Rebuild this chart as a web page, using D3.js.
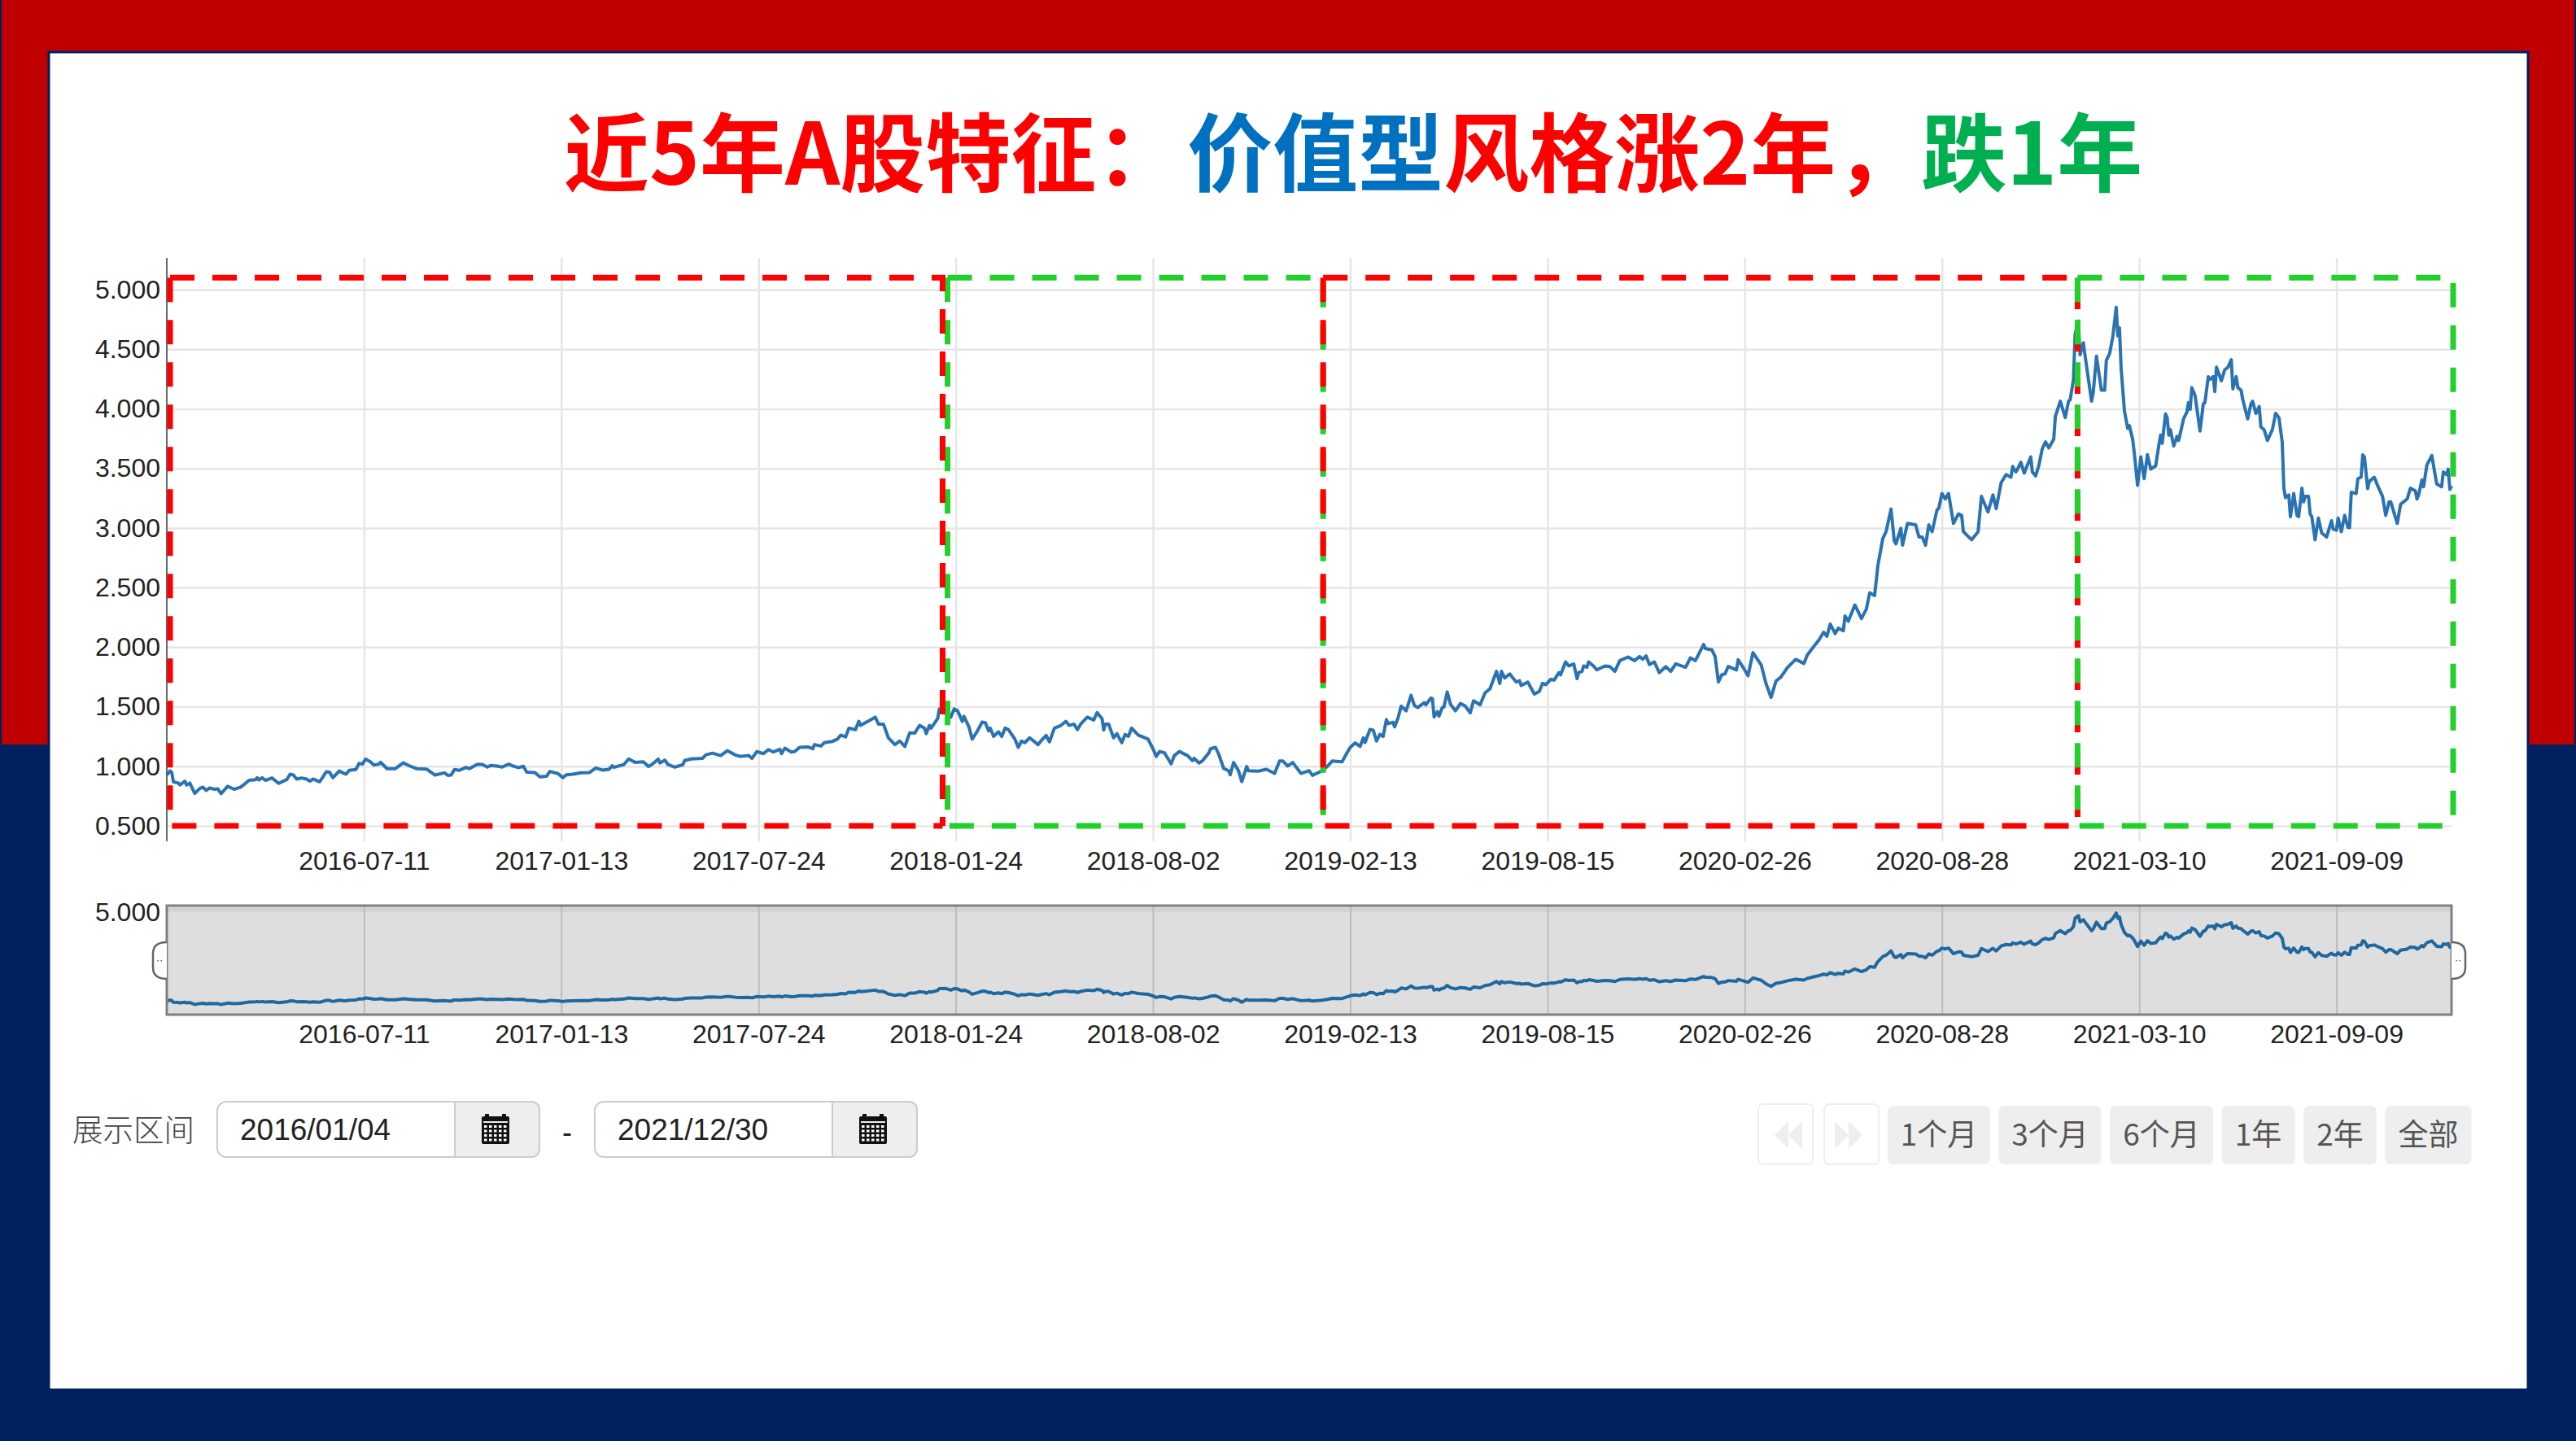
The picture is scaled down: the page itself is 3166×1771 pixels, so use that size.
<!DOCTYPE html>
<html>
<head>
<meta charset="utf-8">
<title>近5年A股特征</title>
<script src="https://cdn.jsdelivr.net/npm/d3@7/dist/d3.min.js"></script>
<style>
html, body { margin: 0; padding: 0; background: #fff; }
svg { display: block; }
text { font-family: "Liberation Sans", Arial, sans-serif; fill: #222; }
.tick text { font-size: 32px; }
.cjk { font-family: "Noto Sans CJK SC", sans-serif; }
.axis .domain { display: none; }
</style>
</head>
<body>
<svg id="chart" width="3166" height="1771"></svg>
<script>
const titleParts = [
    ["近5年A股特征：", "#ff0000"],
    ["价值型", "#0070c0"],
    ["风格涨2年，", "#ff0000"],
    ["跌1年", "#00b050"]
];

const yTicks = [0.5, 1, 1.5, 2, 2.5, 3, 3.5, 4, 4.5, 5];

// x axis counts trading days from 2016/01/04, one label every 120 days
const xTickDays = [120, 240, 360, 480, 600, 720, 840, 960, 1080, 1200, 1320];
const xTickLabels = ["2016-07-11", "2017-01-13", "2017-07-24", "2018-01-24", "2018-08-02", "2019-02-13",
    "2019-08-15", "2020-02-26", "2020-08-28", "2021-03-10", "2021-09-09"];

const startDate = "2016/01/04";
const endDate = "2021/12/30";
const rangeButtons = ["1个月", "3个月", "6个月", "1年", "2年", "全部"];

// up and down periods boxed on the chart: first day, last day, colour
const periods = [
    [475, 703.5, "#22d02b"],
    [2, 472, "#ff0000"],
    [703.5, 1162.5, "#ff0000"],
    [1162.5, 1391, "#22d02b"]
];

// [trading day, value]
const nav2016 = [
    [0,0.927],[2,0.961],[3,0.950],[4,0.870],[7,0.859],[8,0.843],[11,0.875],[12,0.843],[14,0.859],[17,0.772],
    [20,0.813],[22,0.825],[24,0.797],[26,0.818],[29,0.807],[31,0.811],[33,0.770],[37,0.832],[41,0.807],[45,0.825],
    [48,0.859],[50,0.882],[54,0.888],[55,0.904],[56,0.886],[58,0.904],[60,0.882],[64,0.902],[68,0.857],[73,0.888],
    [75,0.934],[77,0.927],[79,0.893],[82,0.902],[85,0.893],[87,0.875],[89,0.893],[93,0.870],[95,0.911],[97,0.954],
    [99,0.950],[101,0.904],[105,0.961],[107,0.945],[109,0.934],[111,0.966],[115,0.973],[117,1.025],[119,1.018],[121,1.061],
    [124,1.036],[126,1.011],[129,1.018],[130,1.034],[134,0.980],[139,0.980],[144,1.030],[147,1.007],[152,0.980],[158,0.977],
    [163,0.927],[169,0.945],[171,0.923],[173,0.927],[175,0.973],[178,0.966],[182,0.991],[184,0.980],[189,1.018],[192,1.016],
    [195,0.993],[197,1.007],[201,1.002],[204,0.993],[208,1.018],[211,1.000],[214,0.989],[217,1.000],[219,0.950],[224,0.948],
    [227,0.911],[231,0.916],[233,0.957],[238,0.939],[241,0.904]
];
const nav2017 = [
    [243,0.929],[247,0.933],[252,0.945],[257,0.947],[261,0.986],[265,0.968],[269,0.975],[271,1.005],[272,0.991],[278,1.014],
    [281,1.062],[285,1.032],[290,1.037],[293,0.998],[295,1.014],[299,1.060],[300,1.028],[303,1.051],[305,1.014],[309,0.993],
    [314,1.014],[315,1.048],[319,1.062],[326,1.067],[328,1.097],[332,1.110],[337,1.090],[341,1.131],[346,1.094],[349,1.083],
    [354,1.090],[356,1.067],[359,1.124],[363,1.106],[366,1.140],[369,1.120],[373,1.143],[374,1.106],[376,1.152],[380,1.120],
    [382,1.124],[385,1.159],[390,1.163],[393,1.147],[394,1.182],[398,1.170],[400,1.198],[405,1.209],[408,1.228],[410,1.262],
    [413,1.246],[415,1.320],[419,1.308],[421,1.377],[422,1.343],[425,1.366],[431,1.412],[433,1.354],[436,1.354],[439,1.239],
    [443,1.182],[446,1.212],[449,1.166],[452,1.281],[455,1.278],[458,1.343],[461,1.320],[462,1.274],[464,1.343],[465,1.320],
    [469,1.400],[470,1.481],[474,1.485]
];
const nav2018 = [
    [477,1.412],[479,1.481],[481,1.469],[484,1.377],[485,1.419],[488,1.331],[490,1.228],[493,1.292],[496,1.370],[498,1.366],
    [500,1.297],[501,1.320],[503,1.251],[506,1.290],[508,1.251],[510,1.320],[512,1.308],[516,1.228],[518,1.159],[520,1.212],
    [522,1.198],[525,1.239],[530,1.182],[532,1.216],[535,1.258],[537,1.205],[540,1.320],[544,1.343],[547,1.377],[549,1.343],
    [552,1.354],[554,1.308],[556,1.354],[560,1.412],[564,1.389],[566,1.451],[569,1.400],[570,1.304],[571,1.354],[573,1.354],
    [576,1.239],[578,1.274],[581,1.198],[583,1.267],[585,1.251],[587,1.320],[591,1.262],[597,1.228],[600,1.147],[602,1.083],
    [604,1.124],[607,1.113],[611,1.021],[613,1.090],[616,1.124],[621,1.090],[624,1.048],[625,1.067],[628,1.028],[630,1.044],
    [634,1.113],[635,1.147],[638,1.159],[640,1.101],[643,0.982],[646,0.963],[647,0.929],[649,1.032],[652,0.963],[654,0.871],
    [657,0.998],[658,0.963],[664,0.959],[669,0.975],[674,0.940],[677,1.044],[679,1.044],[682,1.002],[685,1.032],[690,0.940],
    [695,0.963],[697,0.924],[703,0.963],[706,0.998],[709,1.044],[715,1.037],[718,1.113],[720,1.159]
];
const nav2019 = [
    [723,1.196],[726,1.167],[728,1.239],[729,1.200],[732,1.309],[734,1.302],[736,1.212],[738,1.268],[740,1.250],[742,1.392],
    [743,1.358],[746,1.369],[747,1.331],[749,1.403],[751,1.505],[754,1.466],[757,1.595],[759,1.511],[761,1.493],[765,1.534],
    [766,1.516],[769,1.572],[770,1.568],[771,1.414],[773,1.459],[774,1.421],[776,1.493],[777,1.498],[779,1.624],[781,1.520],
    [784,1.466],[787,1.527],[790,1.505],[793,1.448],[795,1.550],[799,1.516],[802,1.617],[805,1.651],[809,1.797],[811,1.696],
    [812,1.797],[814,1.741],[817,1.775],[821,1.707],[823,1.718],[824,1.678],[828,1.707],[832,1.606],[835,1.628],[837,1.696],
    [839,1.685],[842,1.730],[844,1.723],[847,1.786],[848,1.768],[851,1.876],[853,1.842],[856,1.858],[858,1.736],[859,1.786],
    [861,1.797],[862,1.842],[864,1.831],[865,1.876],[868,1.842],[870,1.809],[875,1.842],[878,1.836],[881,1.797],[884,1.887],
    [889,1.917],[893,1.887],[896,1.921],[898,1.899],[900,1.926],[902,1.854],[905,1.876],[908,1.786],[912,1.836],[915,1.797],
    [918,1.860],[924,1.831],[927,1.910],[930,1.887],[935,2.022],[936,1.989],[940,1.977],[942,1.921],[944,1.707],[946,1.768],
    [948,1.775],[950,1.838],[955,1.809],[956,1.894],[959,1.831],[962,1.760]
];
const nav2020 = [
    [965,1.954],[970,1.852],[973,1.692],[976,1.578],[979,1.715],[982,1.749],[986,1.829],[991,1.897],[996,1.863],[998,1.932],
    [1002,2.005],[1005,2.057],[1008,2.125],[1010,2.091],[1012,2.194],[1015,2.114],[1017,2.160],[1020,2.137],[1021,2.262],[1023,2.217],
    [1027,2.354],[1031,2.240],[1034,2.319],[1036,2.456],[1039,2.433],[1041,2.684],[1044,2.912],[1046,2.969],[1049,3.159],[1051,2.890],
    [1052,2.867],[1055,2.997],[1056,2.855],[1059,3.038],[1064,3.026],[1066,2.924],[1068,2.924],[1070,2.855],[1072,3.026],[1074,2.969],
    [1077,3.152],[1078,3.163],[1080,3.289],[1082,3.243],[1084,3.289],[1087,3.038],[1090,3.118],[1092,3.106],[1093,2.969],[1098,2.901],
    [1102,2.969],[1104,3.266],[1108,3.134],[1111,3.277],[1113,3.163],[1116,3.380],[1119,3.448],[1122,3.426],[1123,3.517],[1125,3.471],
    [1126,3.494],[1128,3.551],[1130,3.460],[1134,3.597],[1135,3.471],[1137,3.437],[1139,3.528],[1141,3.665],[1143,3.722],[1145,3.672],
    [1148,3.745],[1149,3.939],[1152,4.064],[1155,3.927],[1157,4.064],[1158,4.076],[1160,4.247],[1161,4.623],[1163,4.737],[1164,4.452],
    [1166,4.555],[1167,4.452],[1171,4.064],[1172,4.133],[1174,4.441],[1177,4.156],[1179,4.156],[1180,4.406],[1182,4.463],[1184,4.612],
    [1186,4.851],[1187,4.612],[1188,4.680],[1189,4.338],[1191,3.984],[1193,3.836],[1194,3.859],[1196,3.745],[1197,3.631],[1199,3.357],
    [1201,3.597],[1203,3.414],[1205,3.615]
];
const nav2021 = [
    [1207,3.494],[1210,3.521],[1212,3.699],[1213,3.779],[1214,3.711],[1216,3.957],[1217,3.927],[1218,3.779],[1219,3.825],[1221,3.688],
    [1223,3.768],[1224,3.734],[1227,3.916],[1229,3.973],[1230,4.053],[1231,3.996],[1232,4.178],[1234,4.110],[1237,3.813],[1239,4.042],
    [1240,4.053],[1242,4.270],[1243,4.247],[1245,4.270],[1246,4.144],[1247,4.349],[1250,4.235],[1252,4.327],[1254,4.349],[1256,4.413],
    [1257,4.167],[1259,4.270],[1260,4.178],[1262,4.156],[1263,4.076],[1266,3.916],[1268,4.042],[1269,4.064],[1271,3.962],[1273,4.019],
    [1274,3.848],[1276,3.825],[1278,3.734],[1281,3.825],[1283,3.962],[1285,3.927],[1287,3.722],[1288,3.334],[1289,3.255],[1291,3.277],
    [1292,3.095],[1294,3.289],[1296,3.106],[1297,3.095],[1299,3.334],[1300,3.220],[1301,3.266],[1303,3.266],[1304,3.118],[1305,3.095],
    [1307,2.901],[1309,3.083],[1311,2.958],[1314,2.924],[1315,2.969],[1317,3.061],[1318,2.992],[1320,2.981],[1321,3.083],[1323,2.969],
    [1325,3.106],[1327,3.004],[1328,3.004],[1329,3.300],[1332,3.289],[1333,3.414],[1335,3.426],[1336,3.613],[1337,3.597],[1339,3.330],
    [1340,3.391],[1343,3.426],[1345,3.357],[1348,3.266],[1350,3.106],[1352,3.220],[1353,3.220],[1357,3.038],[1359,3.198],[1363,3.243],
    [1365,3.334],[1368,3.312],[1369,3.243],[1370,3.277],[1372,3.403],[1373,3.346],[1375,3.528],[1378,3.608],[1381,3.369],[1384,3.346],
    [1385,3.471],[1387,3.448],[1388,3.494],[1389,3.323],[1390,3.353]
];
const navPoints = [].concat(nav2016, nav2017, nav2018, nav2019, nav2020, nav2021);

const svg = d3.select("#chart");

// slide background
svg.append("rect").attr("width", 3166).attr("height", 1771).attr("fill", "#002060");
svg.append("rect").attr("x", 2).attr("width", 3162).attr("height", 915).attr("fill", "#c00000");
svg.append("rect").attr("x", 60).attr("y", 64).attr("width", 3047).attr("height", 1644)
    .attr("fill", "#fff").attr("stroke", "#002060").attr("stroke-width", 3);

// title, the blue part sits a bit further right than the font's full width colon leaves it
const title = svg.append("text").attr("class", "cjk")
    .attr("x", 693).attr("y", 227)
    .attr("font-size", 105).attr("font-weight", 700);
titleParts.forEach((p, i) => {
    title.append("tspan").attr("class", "cjk").attr("dx", i == 1 ? 7 : 0).style("fill", p[1]).text(p[0]);
});

const x = d3.scaleLinear().domain([0, 1390]).range([205, 3013]);
const y = d3.scaleLinear().domain([0.5, 5]).range([1015, 356]);
const navY = d3.scaleLinear().domain([0.5, 5]).range([1242, 1118]);

const mainTop = 317, mainBottom = 1034;
const navTop = 1113, navBottom = 1247;

// main chart grid
svg.append("g").attr("class", "axis")
    .attr("transform", `translate(0,${mainTop})`)
    .call(d3.axisBottom(x).tickValues(xTickDays).tickSize(mainBottom - mainTop).tickSizeOuter(0).tickFormat(""))
    .selectAll("line").attr("stroke", "#e6e6e6").attr("stroke-width", 2.5);

svg.append("g").attr("class", "axis")
    .attr("transform", `translate(${x.range()[0]},0)`)
    .call(d3.axisRight(y).tickValues(yTicks).tickSize(x.range()[1] - x.range()[0]).tickFormat(""))
    .selectAll("line").attr("stroke", "#e6e6e6").attr("stroke-width", 2.5);

// y labels
svg.append("g").attr("class", "axis")
    .attr("transform", "translate(205,0)")
    .call(d3.axisLeft(y).tickValues(yTicks).tickSize(0).tickPadding(8).tickFormat(d3.format(".3f")));

svg.append("line").attr("x1", 205).attr("x2", 205).attr("y1", mainTop).attr("y2", mainBottom)
    .attr("stroke", "#666").attr("stroke-width", 2);

// x labels
function dateAxis(scale, top) {
    svg.append("g").attr("class", "axis")
        .attr("transform", `translate(0,${top})`)
        .call(d3.axisBottom(scale).tickValues(xTickDays).tickSize(0).tickPadding(12)
            .tickFormat((d, i) => xTickLabels[i]));
}
dateAxis(x, mainBottom);

const line = d3.line().x(d => x(d[0])).y(d => y(d[1]));
svg.append("path").datum(navPoints)
    .attr("fill", "none").attr("stroke", "#2a73b2").attr("stroke-width", 4)
    .attr("stroke-linejoin", "round").attr("d", line);

// dashed period boxes, two open paths so both sides start dashing at the top left corner
const boxTop = y(5.1), boxBottom = y(0.5);
periods.forEach(p => {
    const x0 = x(p[0]), x1 = x(p[1]);
    const sides = d3.path();
    sides.moveTo(x0, boxTop);
    sides.lineTo(x1, boxTop);
    sides.lineTo(x1, boxBottom);
    sides.moveTo(x0, boxTop);
    sides.lineTo(x0, boxBottom);
    sides.lineTo(x1, boxBottom);
    svg.append("path").attr("d", sides.toString())
        .attr("fill", "none").attr("stroke", p[2]).attr("stroke-width", 7)
        .attr("stroke-dasharray", "30 22");
});

// range navigator
svg.append("rect").attr("x", 205).attr("y", navTop)
    .attr("width", x.range()[1] - 205).attr("height", navBottom - navTop)
    .attr("fill", "#dedede");
svg.append("line").attr("x1", 205).attr("x2", x.range()[1]).attr("y1", navY(5)).attr("y2", navY(5))
    .attr("stroke", "#d2d2d2").attr("stroke-width", 5);
svg.append("g").attr("class", "axis")
    .attr("transform", `translate(0,${navTop})`)
    .call(d3.axisBottom(x).tickValues(xTickDays).tickSize(navBottom - navTop).tickFormat(""))
    .selectAll("line").attr("stroke", "#bcbcbc").attr("stroke-width", 2);

const navLine = d3.line().x(d => x(d[0])).y(d => navY(d[1]));
svg.append("path").datum(navPoints)
    .attr("fill", "none").attr("stroke", "#1f689f").attr("stroke-width", 4)
    .attr("stroke-linejoin", "round").attr("d", navLine);

svg.append("rect").attr("x", 205).attr("y", navTop)
    .attr("width", x.range()[1] - 205).attr("height", navBottom - navTop)
    .attr("fill", "none").attr("stroke", "#808080").attr("stroke-width", 3);

svg.append("g").attr("class", "axis")
    .attr("transform", "translate(205,3)")
    .call(d3.axisLeft(navY).tickValues([5]).tickSize(0).tickPadding(8).tickFormat(d3.format(".3f")));
dateAxis(x, navBottom);

function navHandle(edge, dir) {
    const w = 17 * dir;
    const h = d3.path();
    h.moveTo(edge, 1158);
    h.quadraticCurveTo(edge + w, 1158, edge + w, 1172);
    h.lineTo(edge + w, 1189);
    h.quadraticCurveTo(edge + w, 1203, edge, 1203);
    svg.append("path").attr("d", h.toString())
        .attr("fill", "#fff").attr("stroke", "#666").attr("stroke-width", 2.5);
    [-2, 2].forEach(o => {
        svg.append("rect").attr("x", edge + w / 2 + o - 1).attr("y", 1180).attr("width", 1.5).attr("height", 1.5).attr("fill", "#666");
    });
}
navHandle(205, -1);
navHandle(x.range()[1], 1);

// date inputs
function calendarIcon(left) {
    const g = svg.append("g").attr("transform", `translate(${left},1369)`);
    g.append("rect").attr("y", 3).attr("width", 34).attr("height", 34).attr("rx", 2).attr("fill", "#111");
    [4, 25].forEach(o => {
        g.append("rect").attr("x", o).attr("width", 5).attr("height", 7).attr("fill", "#111");
    });
    g.append("rect").attr("x", 2).attr("y", 9).attr("width", 30).attr("height", 2).attr("fill", "#eee");
    d3.range(4).forEach(r => d3.range(5).forEach(c => {
        g.append("rect").attr("x", 3 + c * 6).attr("y", 14 + r * 5.5)
            .attr("width", 3.5).attr("height", 3).attr("fill", "#fff");
    }));
}

function dateInput(left, value) {
    const width = 396, divider = 292;
    svg.append("rect").attr("x", left).attr("y", 1354).attr("width", width).attr("height", 68).attr("rx", 11)
        .attr("fill", "#fff").attr("stroke", "#ccc").attr("stroke-width", 2);
    const add = d3.path();
    add.moveTo(left + divider, 1354);
    add.lineTo(left + width - 11, 1354);
    add.quadraticCurveTo(left + width, 1354, left + width, 1365);
    add.lineTo(left + width, 1411);
    add.quadraticCurveTo(left + width, 1422, left + width - 11, 1422);
    add.lineTo(left + divider, 1422);
    add.closePath();
    svg.append("path").attr("d", add.toString()).attr("fill", "#eee").attr("stroke", "#ccc").attr("stroke-width", 2);
    svg.append("text").attr("x", left + 28).attr("y", 1401).attr("font-size", 37).text(value);
    calendarIcon(left + 325);
}

svg.append("text").attr("class", "cjk").attr("x", 89).attr("y", 1402)
    .attr("font-size", 37.5).attr("font-weight", 300).style("fill", "#444").text("展示区间");
dateInput(267, startDate);
svg.append("text").attr("x", 697).attr("y", 1404).attr("text-anchor", "middle").attr("font-size", 36).text("-");
dateInput(731, endDate);

// paging arrows
function pageButton(left, dir) {
    svg.append("rect").attr("x", left).attr("y", 1357).attr("width", 67).attr("height", 74).attr("rx", 6)
        .attr("fill", "#fff").attr("stroke", "#eee").attr("stroke-width", 2);
    [0, 17].forEach(o => {
        const tipX = dir < 0 ? left + 20 + o : left + 47 - o;
        const t = d3.path();
        t.moveTo(tipX, 1395);
        t.lineTo(tipX - dir * 17, 1378);
        t.lineTo(tipX - dir * 17, 1412);
        t.closePath();
        svg.append("path").attr("d", t.toString()).attr("fill", "#eee");
    });
}
pageButton(2161, -1);
pageButton(2242, 1);

// range buttons
const buttonWidths = [126, 126, 127, 90, 90, 106];
let buttonLeft = 2320;
rangeButtons.forEach((label, i) => {
    svg.append("rect").attr("x", buttonLeft).attr("y", 1359).attr("width", buttonWidths[i]).attr("height", 72).attr("rx", 7)
        .attr("fill", "#eee");
    svg.append("text").attr("class", "cjk")
        .attr("x", buttonLeft + buttonWidths[i] / 2).attr("y", 1408)
        .attr("text-anchor", "middle").attr("font-size", 37).attr("font-weight", 400)
        .style("fill", "#555").text(label);
    buttonLeft += buttonWidths[i] + 10.5;
});
</script>
</body>
</html>
